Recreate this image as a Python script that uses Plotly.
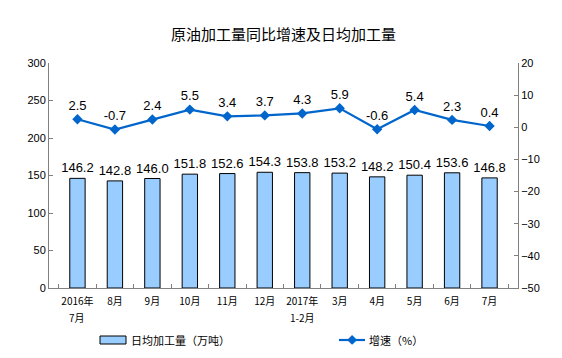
import plotly.graph_objects as go

categories = ["2016年<br>7月", "8月", "9月", "10月", "11月", "12月", "2017年<br>1-2月",
              "3月", "4月", "5月", "6月", "7月"]
daily_output = [146.2, 142.8, 146.0, 151.8, 152.6, 154.3, 153.8, 153.2, 148.2, 150.4, 153.6, 146.8]
growth_rate = [2.5, -0.7, 2.4, 5.5, 3.4, 3.7, 4.3, 5.9, -0.6, 5.4, 2.3, 0.4]
bar_name = "日均加工量（万吨）"
line_name = "增速（%）"

font_family = "Liberation Sans, Arial, Noto Sans CJK SC, sans-serif"
cjk_family = "Noto Sans CJK SC, sans-serif"
bar_color = "#99CCFF"
line_color = "#0066CC"

# page has an 8px body margin; size the figure to fill the window
OFF = 8
W, H = 562 - OFF, 358 - OFF
L, R, T, B = 49 - OFF, 44, 63 - OFF, 70

def px_x(x):
    return (x - OFF - L) / (W - L - R)

def px_y(y):
    return (H - B - (y - OFF)) / (H - T - B)

tick_first = [c.split("<br>")[0] for c in categories]

fig = go.Figure()
fig.add_trace(go.Bar(
    x=categories, y=daily_output, name=bar_name,
    marker=dict(color=bar_color, line=dict(color="black", width=1)),
    width=0.41,
    text=[f"{v:.1f}" for v in daily_output], textposition="outside",
    constraintext="none",
    textfont=dict(size=13, color="black", family=font_family),
    cliponaxis=False,
))
fig.add_trace(go.Scatter(
    x=categories, y=growth_rate, name=line_name, yaxis="y2",
    mode="lines+markers+text",
    line=dict(color=line_color, width=2.2),
    marker=dict(symbol="diamond", size=8, color=line_color),
    text=[f"{v:.1f}" for v in growth_rate], textposition="top center",
    textfont=dict(size=13, color="black", family=font_family),
    cliponaxis=False,
))

# Manual legend (paper coordinates, styling only)
shapes = [
    dict(type="rect", xref="paper", yref="paper",
         x0=px_x(100), x1=px_x(126), y0=px_y(344), y1=px_y(336),
         fillcolor=bar_color, line=dict(color="black", width=1)),
    dict(type="line", xref="paper", yref="paper",
         x0=px_x(339), x1=px_x(365), y0=px_y(340), y1=px_y(340),
         line=dict(color=line_color, width=2.2)),
]
annotations = [
    dict(text=bar_name, xref="paper", yref="paper", x=px_x(129), y=px_y(340),
         xanchor="left", yanchor="middle", showarrow=False,
         font=dict(size=11, color="black", family=cjk_family)),
    dict(text=line_name, xref="paper", yref="paper", x=px_x(367), y=px_y(340),
         xanchor="left", yanchor="middle", showarrow=False,
         font=dict(size=11, color="black", family=cjk_family)),
    dict(text="◆", xref="paper", yref="paper", x=px_x(352), y=px_y(340),
         xanchor="center", yanchor="middle", showarrow=False,
         font=dict(size=10, color=line_color, family=font_family)),
]
# second lines of two-line category labels
for c in categories:
    parts = c.split("<br>")
    if len(parts) > 1:
        annotations.append(dict(
            text=parts[1], xref="x", yref="paper", x=c, y=px_y(317),
            xanchor="center", yanchor="middle", showarrow=False,
            font=dict(size=10, color="black", family=cjk_family)))

fig.update_layout(
    width=W, height=H,
    margin=dict(l=L, r=R, t=T, b=B, autoexpand=False),
    paper_bgcolor="white", plot_bgcolor="white",
    title=dict(text="原油加工量同比增速及日均加工量", x=px_x(283.5), xanchor="center",
               xref="paper",
               y=1 - (35 - OFF) / H, yanchor="middle", yref="container",
               font=dict(size=15, color="black", family=cjk_family)),
    showlegend=False,
    shapes=shapes,
    annotations=annotations,
    xaxis=dict(showline=True, linecolor="#808080", linewidth=1, automargin=False,
               ticks="inside", tickcolor="#808080", ticklen=4, tickson="boundaries",
               tickangle=0, ticklabelstandoff=4,
               tickmode="array", tickvals=categories, ticktext=tick_first,
               tickfont=dict(size=10, color="black", family=cjk_family),
               showgrid=False, mirror=False),
    yaxis=dict(range=[0, 300], dtick=50, showline=True, linecolor="#808080", linewidth=1,
               ticks="inside", tickcolor="#808080", ticklen=4, showgrid=False,
               zeroline=False, automargin=False,
               tickfont=dict(size=11, color="black", family=font_family)),
    yaxis2=dict(range=[-50, 20], dtick=10, overlaying="y", side="right",
                showline=True, linecolor="#808080", linewidth=1,
                ticks="inside", tickcolor="#808080", ticklen=4, showgrid=False,
                zeroline=False, automargin=False,
                tickfont=dict(size=11, color="black", family=font_family)),
    bargap=0.5,
)

fig.write_html("out.html")
